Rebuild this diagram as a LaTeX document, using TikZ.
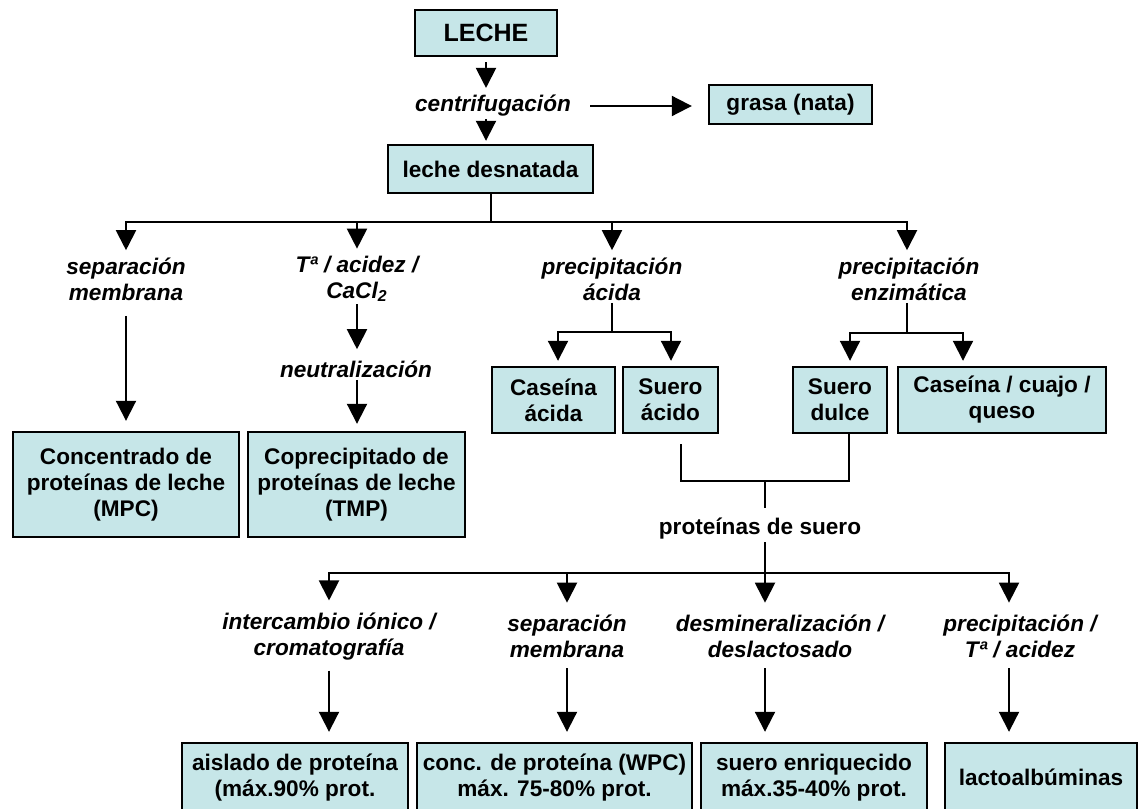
\documentclass[tikz,border=0pt]{standalone}
\usepackage{fontspec}
\setmainfont{Liberation Sans}
\usetikzlibrary{arrows.meta}
\definecolor{cajaazul}{RGB}{198,230,232}

\begin{document}
\begin{tikzpicture}[x=0.5pt,y=-0.5pt,
    flecha/.style={draw=black,line width=1pt,-{Triangle[width=10pt,length=10pt]}},
    linea/.style={draw=black,line width=1pt}]
  \useasboundingbox (0,0) rectangle (1139,808);

  \begin{scope}[every node/.style={rectangle,draw=black,line width=1.2pt,fill=cajaazul,inner sep=0pt,align=center,font=\bfseries\fontsize{11.3}{13}\selectfont}]
    \node[minimum width=71pt,minimum height=23pt,font=\bfseries\fontsize{12.5}{14}\selectfont] (leche) at (486,33) {LECHE};
    \node[minimum width=102.5pt,minimum height=24pt] (desnatada) at (490.5,169) {leche desnatada};
    \node[minimum width=81.5pt,minimum height=19.5pt] (grasa) at (790.5,104.5) {grasa (nata)};
    \node[minimum width=113pt,minimum height=52.5pt] (mpc) at (126,484.5) {Concentrado de\\proteínas de leche\\(MPC)};
    \node[minimum width=108.5pt,minimum height=52.5pt] (tmp) at (356.5,484.5) {Coprecipitado de\\proteínas de leche\\(TMP)};
    \node[minimum width=61.5pt,minimum height=33pt] (casacida) at (553.5,400) {Caseína\\ácida};
    \node[minimum width=47.5pt,minimum height=33pt] (sueroacido) at (670.5,400) {Suero\\ácido};
    \node[minimum width=47pt,minimum height=33pt] (suerodulce) at (840,400) {Suero\\dulce};
    \node[minimum width=104pt,minimum height=33pt] (casqueso) at (1002,400) {Caseína / cuajo /\\queso};
    \node[minimum width=113pt,minimum height=34.5pt] (aislado) at (295,777.5) {aislado de proteína\\(máx.90\% prot.};
    \node[minimum width=137.5pt,minimum height=34.5pt] (wpc) at (554.5,777.5) {conc. de proteína (WPC)\\máx. 75-80\% prot.};
    \node[minimum width=113pt,minimum height=34.5pt] (enriq) at (814,777.5) {suero enriquecido\\máx.35-40\% prot.};
    \node[minimum width=96pt,minimum height=34.5pt] (lacto) at (1041,777.5) {lactoalbúminas};
  \end{scope}

  % procesos
  \begin{scope}[every node/.style={inner sep=1pt,align=center,font=\bfseries\itshape\fontsize{11.3}{13}\selectfont}]
    \node (centrif) at (493,106) {centrifugación};
    \node (sepmem) at (126,279) {separación\\membrana};
    \node (tacid) at (357,279) {Tª / acidez /\\CaCl\textsubscript{2}};
    \node (neutral) at (356,369) {neutralización};
    \node (precacid) at (612,279) {precipitación\\ácida};
    \node (precenz) at (909,279) {precipitación\\enzimática};
    \node (interc) at (329,636.5) {intercambio iónico /\\cromatografía};
    \node (sepmem2) at (567,636.5) {separación\\membrana};
    \node (desmin) at (780,636.5) {desmineralización /\\deslactosado};
    \node (precip2) at (1020,636.5) {precipitación /\\Tª / acidez};
  \end{scope}
  \node[inner sep=1pt,font=\bfseries\fontsize{11.3}{13}\selectfont] (protsuero) at (760,529) {proteínas de suero};

  \coordinate (split1) at (490.5,222);
  \coordinate (pa) at (612,332);
  \coordinate (pal) at (558,332);
  \coordinate (par) at (671,332);
  \coordinate (pe) at (907,333);
  \coordinate (pel) at (850,333);
  \coordinate (per) at (963,333);
  \coordinate (bl) at (681,481);
  \coordinate (br) at (849,481);
  \coordinate (split2) at (765,573);
  \coordinate (k4) at (1009,573);

  % leche -> desnatada / grasa
  \draw[flecha,shorten <=2.5pt,shorten >=2.5pt] (leche.south) -- (leche.south |- centrif.north);
  \draw[flecha,shorten >=1.5pt] (leche.south |- centrif.south) -- (leche.south |- desnatada.north);
  \draw[flecha,shorten <=8.5pt,shorten >=8pt] (centrif.east) -- (centrif.east -| grasa.west);

  % reparto de la leche desnatada
  \draw[linea] (desnatada.south) -- (split1);
  \draw[flecha,shorten >=2.5pt] (split1) -| (sepmem.north);
  \draw[flecha,shorten >=2.5pt] (split1) -| (tacid.north);
  \draw[flecha,shorten >=2.5pt] (split1) -| (precacid.north);
  \draw[flecha,shorten >=2.5pt] (split1) -| (pe |- precenz.north);

  \draw[flecha,shorten <=6.5pt,shorten >=5pt] (sepmem.south) -- (mpc.north);
  \draw[flecha,shorten >=4.5pt] (tacid.south) -- (tacid.south |- neutral.north);
  \draw[flecha,shorten >=3.5pt] (tacid.south |- neutral.south) -- (tacid.south |- tmp.north);

  \draw[linea] (precacid.south) -- (pa);
  \draw[flecha,shorten >=2.5pt] (pa) -- (pal) -- (pal |- casacida.north);
  \draw[flecha,shorten >=2.5pt] (pa) -- (par) -- (par |- sueroacido.north);
  \draw[linea] (pe |- precenz.south) -- (pe);
  \draw[flecha,shorten >=2.5pt] (pe) -- (pel) -- (pel |- suerodulce.north);
  \draw[flecha,shorten >=2.5pt] (pe) -- (per) -- (per |- casqueso.north);

  % sueros
  \draw[linea,shorten <=5pt] (bl |- sueroacido.south) -- (bl) -- (br) -- (br |- suerodulce.south);
  \draw[linea,shorten >=4pt] (split2 |- bl) -- (split2 |- protsuero.north);
  \draw[linea] (split2 |- protsuero.south) -- (split2);

  % reparto de proteinas de suero
  \draw[flecha,shorten >=5pt] (split2) -| (interc.north);
  \draw[flecha,shorten >=5pt] (split2) -| (sepmem2.north);
  \draw[flecha,shorten >=5pt] (split2) -- (split2 |- desmin.north);
  \draw[flecha,shorten >=5pt] (split2) -- (k4) -- (k4 |- precip2.north);

  \draw[flecha,shorten <=4pt,shorten >=5pt] (interc.south) -- (interc.south |- aislado.north);
  \draw[flecha,shorten <=4pt,shorten >=5pt] (sepmem2.south) -- (sepmem2.south |- wpc.north);
  \draw[flecha,shorten <=4pt,shorten >=5pt] (split2 |- desmin.south) -- (split2 |- enriq.north);
  \draw[flecha,shorten <=4pt,shorten >=5pt] (k4 |- precip2.south) -- (k4 |- lacto.north);
\end{tikzpicture}
\end{document}
